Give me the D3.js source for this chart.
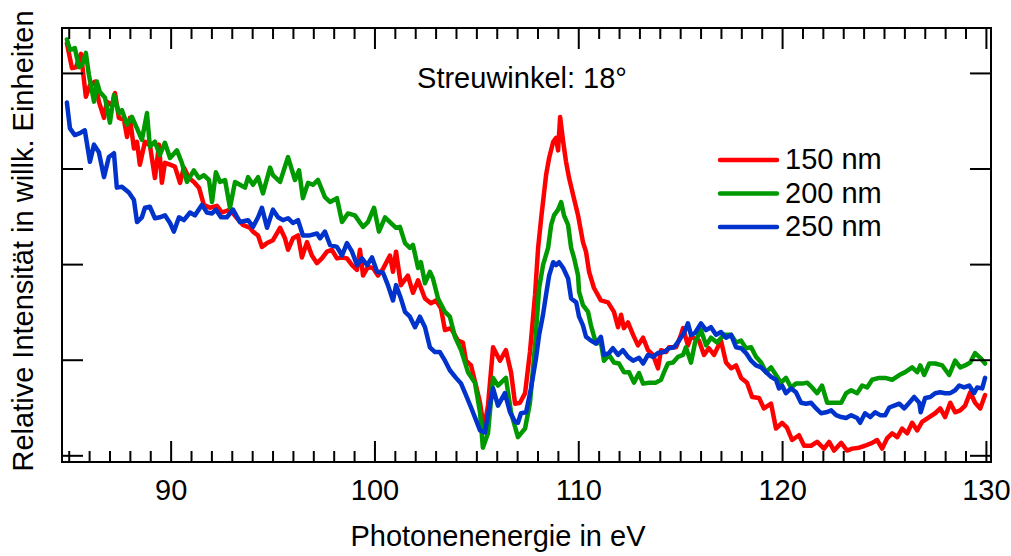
<!DOCTYPE html>
<html>
<head>
<meta charset="utf-8">
<script src="https://cdn.jsdelivr.net/npm/d3@7"></script>
<style>
  html, body { margin: 0; padding: 0; background: #fff; }
  svg { display: block; font-family: "Liberation Sans", Arial, Helvetica, sans-serif; }
</style>
</head>
<body>
<svg id="chart" width="1011" height="556"></svg>
<script>
// Spectra: photon energy (eV) and relative intensity (arb. units) per particle size

const energy150 = [84.91,85.16,85.35,85.60,85.84,86.04,86.29,86.48,86.73,86.87,87.12,87.27,87.46,87.71,87.86,88.00,88.20,88.35,88.49,88.74,88.98,89.23,89.43,89.57,89.72,89.97,90.21,90.46,90.65,90.90,91.14,91.39,91.63,91.93,92.27,92.52,92.91,93.26,93.55,93.90,94.04,94.29,94.48,94.73,95.02,95.37,95.61,95.76,96.00,96.25,96.44,96.69,96.93,97.18,97.42,97.67,97.91,98.16,98.41,98.65,98.90,99.14,99.29,99.44,99.68,99.93,100.17,100.42,100.76,100.91,101.06,101.30,101.64,101.89,102.14,102.48,102.77,103.02,103.26,103.46,103.75,104.10,104.34,104.49,104.74,104.98,105.18,105.37,105.57,105.82,106.16,106.45,106.70,106.90,107.14,107.39,107.63,107.88,108.03,108.18,108.42,108.57,108.77,108.91,109.01,109.11,109.26,109.40,109.55,109.75,109.99,110.23,110.38,110.53,110.77,111.11,111.46,111.75,111.95,112.10,112.24,112.44,112.69,112.93,113.18,113.42,113.67,113.91,114.06,114.31,114.45,114.80,115.04,115.14,115.38,115.53,115.92,116.17,116.41,116.66,117.00,117.25,117.50,117.74,117.99,118.28,118.53,118.87,119.11,119.46,119.70,120.00,120.24,120.49,120.83,121.08,121.42,121.72,122.06,122.31,122.55,122.90,123.19,123.44,123.78,124.07,124.42,124.66,124.91,125.16,125.40,125.65,125.89,126.14,126.38,126.63,126.87,127.22,127.51,127.76,128.00,128.25,128.49,128.74,128.98,129.23,129.47,129.72,129.96];
const intensity150 = [4.31,4.05,4.06,4.20,3.75,3.87,3.91,3.70,3.53,3.70,3.66,3.79,3.53,3.51,3.33,3.53,3.21,3.28,3.04,3.28,3.25,2.90,3.25,2.85,3.06,3.04,3.02,2.85,3.01,2.90,2.86,2.80,2.62,2.59,2.61,2.54,2.57,2.48,2.41,2.38,2.34,2.30,2.18,2.22,2.25,2.38,2.27,2.15,2.27,2.30,2.07,2.23,2.09,2.01,2.06,2.13,2.15,2.06,2.07,2.06,1.99,1.94,2.15,1.88,1.97,1.96,1.88,1.95,2.09,1.92,2.13,1.78,1.88,1.70,1.83,1.64,1.59,1.62,1.54,1.31,1.33,1.20,1.18,0.99,0.94,0.73,0.55,0.28,0.52,1.13,0.99,1.10,0.87,0.54,0.55,0.65,1.08,1.68,2.17,2.48,2.93,3.11,3.28,3.32,3.19,3.54,3.28,3.07,2.90,2.72,2.51,2.23,2.13,1.92,1.75,1.62,1.60,1.50,1.34,1.47,1.33,1.39,1.26,1.15,1.23,1.10,1.05,0.91,1.10,1.08,1.13,1.13,1.26,1.33,1.15,1.24,1.20,1.05,1.12,1.05,1.20,0.97,0.91,0.94,0.81,0.76,0.61,0.60,0.49,0.54,0.28,0.34,0.29,0.16,0.21,0.10,0.10,0.14,0.07,0.14,0.05,0.13,0.05,0.07,0.08,0.10,0.13,0.16,0.07,0.18,0.23,0.19,0.28,0.23,0.34,0.26,0.35,0.40,0.44,0.49,0.40,0.55,0.45,0.47,0.52,0.66,0.55,0.49,0.63];

const energy200 = [84.91,85.06,85.30,85.50,85.65,85.84,85.99,86.24,86.38,86.53,86.78,87.02,87.22,87.46,87.61,87.86,88.10,88.35,88.59,88.84,88.98,89.23,89.47,89.72,89.97,90.31,90.55,90.80,91.14,91.39,91.63,91.88,92.03,92.22,92.42,92.67,92.91,93.16,93.40,93.65,93.80,94.04,94.29,94.53,94.88,95.02,95.37,95.76,96.10,96.30,96.49,96.74,96.98,97.23,97.57,97.82,98.16,98.41,98.70,99.04,99.44,99.68,99.98,100.22,100.52,100.81,101.06,101.25,101.50,101.74,101.89,102.14,102.28,102.48,102.72,102.87,103.12,103.46,103.70,103.95,104.25,104.59,104.93,105.18,105.32,105.57,105.82,106.06,106.45,106.70,107.04,107.39,107.63,107.88,108.08,108.27,108.52,108.67,108.81,109.01,109.16,109.30,109.50,109.65,109.80,109.99,110.04,110.23,110.48,110.62,110.87,111.11,111.26,111.51,111.75,112.00,112.24,112.49,112.73,112.98,113.18,113.47,113.81,114.06,114.21,114.40,114.65,114.89,115.14,115.28,115.53,115.73,116.02,116.27,116.51,116.81,117.15,117.50,117.74,117.99,118.23,118.48,118.72,118.97,119.21,119.46,119.70,119.95,120.19,120.44,120.68,120.98,121.23,121.47,121.72,121.96,122.21,122.55,122.90,123.14,123.39,123.68,123.93,124.17,124.42,124.76,125.06,125.40,125.75,126.04,126.38,126.63,126.78,126.97,127.22,127.51,127.86,128.20,128.49,128.74,128.98,129.23,129.47,129.72,129.96];
const intensity200 = [4.35,4.24,4.26,4.06,4.08,4.21,3.98,3.70,3.91,3.80,3.74,3.48,3.77,3.58,3.61,3.46,3.54,3.42,3.30,3.58,3.23,3.28,3.14,3.27,3.11,3.19,3.06,2.86,2.98,2.90,2.93,2.88,2.65,2.96,2.86,2.88,2.59,2.86,2.83,2.80,2.91,2.83,2.91,2.74,3.01,2.93,2.86,3.12,2.88,2.98,2.69,2.85,2.83,2.88,2.70,2.65,2.69,2.44,2.53,2.51,2.39,2.44,2.59,2.34,2.49,2.43,2.38,2.39,2.22,2.17,2.20,1.96,2.02,1.80,1.92,1.85,1.64,1.50,1.45,1.24,1.10,0.87,0.76,0.45,0.08,0.23,0.81,0.73,0.81,0.45,0.19,0.28,0.55,1.15,1.75,1.99,2.17,2.41,2.51,2.57,2.65,2.51,2.41,2.17,2.06,1.88,1.71,1.57,1.50,1.36,1.17,1.18,0.99,1.05,0.97,0.96,0.87,0.87,0.76,0.86,0.75,0.76,0.76,0.79,0.87,0.96,0.97,1.03,1.05,1.13,0.97,1.18,1.31,1.15,1.23,1.18,1.26,1.26,1.18,1.20,1.12,1.13,1.03,0.97,0.87,0.92,0.84,0.76,0.81,0.71,0.75,0.75,0.76,0.71,0.65,0.73,0.55,0.55,0.55,0.65,0.68,0.65,0.73,0.71,0.79,0.81,0.81,0.79,0.84,0.87,0.92,0.87,0.94,0.84,0.96,0.96,0.94,0.84,0.99,0.92,0.94,0.97,1.07,1.02,0.96];

const energy250 = [84.91,85.06,85.30,85.55,85.79,86.04,86.24,86.48,86.73,86.97,87.22,87.36,87.61,87.95,88.20,88.35,88.59,88.74,88.98,89.23,89.47,89.72,89.97,90.16,90.41,90.65,90.95,91.19,91.54,91.78,92.03,92.22,92.47,92.76,93.06,93.40,93.80,94.04,94.29,94.48,94.73,95.02,95.27,95.51,95.76,96.00,96.25,96.49,96.83,97.18,97.33,97.57,97.82,98.16,98.41,98.65,98.90,99.14,99.39,99.64,99.88,100.13,100.42,100.66,100.91,101.06,101.30,101.50,101.74,101.99,102.23,102.48,102.72,102.97,103.21,103.46,103.70,104.00,104.25,104.49,104.74,104.98,105.18,105.42,105.57,105.82,106.06,106.40,106.65,106.90,107.04,107.19,107.44,107.68,107.93,108.08,108.27,108.42,108.57,108.77,108.91,109.06,109.26,109.50,109.65,109.90,110.04,110.23,110.38,110.62,110.87,111.11,111.26,111.51,111.70,111.95,112.19,112.44,112.69,112.98,113.18,113.42,113.67,113.91,114.21,114.45,114.70,114.94,115.19,115.38,115.53,115.73,116.02,116.27,116.51,116.76,117.00,117.25,117.50,117.74,117.99,118.23,118.48,118.72,118.97,119.21,119.46,119.70,119.85,120.00,120.19,120.44,120.68,120.93,121.18,121.42,121.67,121.91,122.16,122.41,122.65,122.90,123.14,123.39,123.68,123.83,124.07,124.32,124.56,124.81,125.06,125.26,125.50,125.75,125.99,126.24,126.48,126.73,126.80,127.02,127.27,127.51,127.76,128.00,128.25,128.49,128.69,128.93,129.18,129.42,129.57,129.82,129.96];
const intensity250 = [3.69,3.42,3.35,3.37,3.40,3.07,3.25,3.17,2.91,3.12,3.16,2.80,2.81,2.75,2.67,2.44,2.49,2.59,2.60,2.48,2.49,2.51,2.43,2.34,2.49,2.46,2.54,2.51,2.62,2.54,2.53,2.57,2.49,2.49,2.57,2.44,2.46,2.39,2.49,2.59,2.38,2.57,2.49,2.46,2.48,2.43,2.46,2.30,2.30,2.32,2.27,2.34,2.20,2.18,2.09,2.22,2.13,1.99,2.06,1.99,2.07,1.92,1.91,1.78,1.62,1.78,1.64,1.50,1.45,1.34,1.45,1.34,1.13,1.08,1.08,0.99,0.89,0.81,0.75,0.63,0.50,0.37,0.26,0.24,0.42,0.70,0.52,0.65,0.45,0.35,0.34,0.44,0.45,0.70,1.02,1.26,1.47,1.68,1.88,2.02,1.99,2.02,1.96,1.85,1.64,1.60,1.45,1.36,1.24,1.20,1.17,1.24,1.05,1.07,1.12,1.05,1.10,1.03,0.99,1.02,0.96,1.05,1.03,1.07,1.08,1.12,1.13,1.20,1.28,1.38,1.26,1.28,1.38,1.31,1.34,1.26,1.29,1.23,1.26,1.13,1.12,1.07,0.99,0.94,0.92,0.87,0.82,0.79,0.70,0.73,0.65,0.70,0.66,0.55,0.54,0.55,0.49,0.44,0.45,0.47,0.42,0.40,0.39,0.42,0.39,0.34,0.44,0.40,0.45,0.42,0.42,0.50,0.52,0.54,0.49,0.55,0.61,0.55,0.45,0.60,0.61,0.65,0.66,0.65,0.65,0.68,0.73,0.71,0.73,0.65,0.71,0.70,0.81];

const seriesLabels = ["150 nm", "200 nm", "250 nm"];
const seriesColors = ["#ff0000", "#009900", "#0033cc"];
const xMajorTicks = [90, 100, 110, 120, 130];
const xMinorTicks = [85,86,87,88,89,91,92,93,94,95,96,97,98,99,101,102,103,104,105,106,107,108,109,111,112,113,114,115,116,117,118,119,121,122,123,124,125,126,127,128,129];
const yTicks = [0, 1, 2, 3, 4];

const xTitle = "Photonenenergie in eV";
const yTitle = "Relative Intensität in willk. Einheiten";
const note = "Streuwinkel: 18°";

// ---- layout ----
const plot = { left: 62, right: 991, top: 28, bottom: 462 };
const fontSize = 29;

const svg = d3.select("#chart");

const x = d3.scaleLinear().domain([84.67, 130.25]).range([plot.left, plot.right]);
const y = d3.scaleLinear().domain([-0.07, 4.47]).range([plot.bottom, plot.top]);

const series = [
  { label: seriesLabels[0], color: seriesColors[0], points: d3.zip(energy150, intensity150) },
  { label: seriesLabels[1], color: seriesColors[1], points: d3.zip(energy200, intensity200) },
  { label: seriesLabels[2], color: seriesColors[2], points: d3.zip(energy250, intensity250) }
];

// ---- curves ----
const line = d3.line().x(d => x(d[0])).y(d => y(d[1]));
svg.append("g").selectAll("path")
  .data(series)
  .join("path")
  .attr("d", d => line(d.points))
  .attr("fill", "none")
  .attr("stroke", d => d.color)
  .attr("stroke-width", 4.5)
  .attr("stroke-linejoin", "round")
  .attr("stroke-linecap", "round");

// ---- axes (ticks point inward on all four sides) ----
function styleAxis(g) {
  g.select(".domain").remove();
  g.selectAll(".tick line").attr("stroke", "#000").attr("stroke-width", 2);
  g.selectAll(".tick text")
    .attr("fill", "#000")
    .attr("font-size", fontSize)
    .attr("font-family", "'Liberation Sans', Arial, Helvetica, sans-serif");
}

svg.append("g")
  .attr("transform", `translate(0,${plot.bottom})`)
  .call(d3.axisBottom(x).tickValues(xMinorTicks).tickSize(-11).tickFormat(""))
  .call(styleAxis);
svg.append("g")
  .attr("transform", `translate(0,${plot.bottom})`)
  .call(d3.axisBottom(x).tickValues(xMajorTicks).tickSize(-21).tickPadding(17).tickFormat(d3.format("d")))
  .call(styleAxis);
svg.append("g")
  .attr("transform", `translate(0,${plot.top})`)
  .call(d3.axisTop(x).tickValues(xMinorTicks).tickSize(-11).tickFormat(""))
  .call(styleAxis);
svg.append("g")
  .attr("transform", `translate(0,${plot.top})`)
  .call(d3.axisTop(x).tickValues(xMajorTicks).tickSize(-21).tickFormat(""))
  .call(styleAxis);
svg.append("g")
  .attr("transform", `translate(${plot.left},0)`)
  .call(d3.axisLeft(y).tickValues(yTicks).tickSize(-21).tickFormat(""))
  .call(styleAxis);
svg.append("g")
  .attr("transform", `translate(${plot.right},0)`)
  .call(d3.axisRight(y).tickValues(yTicks).tickSize(-21).tickFormat(""))
  .call(styleAxis);

// frame
svg.append("rect")
  .attr("x", plot.left).attr("y", plot.top)
  .attr("width", plot.right - plot.left).attr("height", plot.bottom - plot.top)
  .attr("fill", "none").attr("stroke", "#000").attr("stroke-width", 2);

// ---- titles ----
svg.append("text")
  .attr("x", 498)
  .attr("y", 546)
  .attr("text-anchor", "middle")
  .attr("font-size", fontSize)
  .attr("fill", "#000")
  .text(xTitle);

svg.append("text")
  .attr("transform", `translate(33,241) rotate(-90)`)
  .attr("text-anchor", "middle")
  .attr("font-size", fontSize)
  .attr("fill", "#000")
  .text(yTitle);

svg.append("text")
  .attr("x", 522)
  .attr("y", 88)
  .attr("text-anchor", "middle")
  .attr("font-size", fontSize)
  .attr("fill", "#000")
  .text(note);

// ---- legend ----
const legend = svg.append("g").attr("transform", "translate(720,160)");
const item = legend.selectAll("g")
  .data(series)
  .join("g")
  .attr("transform", (d, i) => `translate(0,${i * 33.5})`);
item.append("line")
  .attr("x1", 0).attr("x2", 57)
  .attr("stroke", d => d.color)
  .attr("stroke-width", 4.5)
  .attr("stroke-linecap", "round");
item.append("text")
  .attr("x", 65)
  .attr("y", 9)
  .attr("font-size", fontSize)
  .attr("fill", "#000")
  .text(d => d.label);
</script>
</body>
</html>
